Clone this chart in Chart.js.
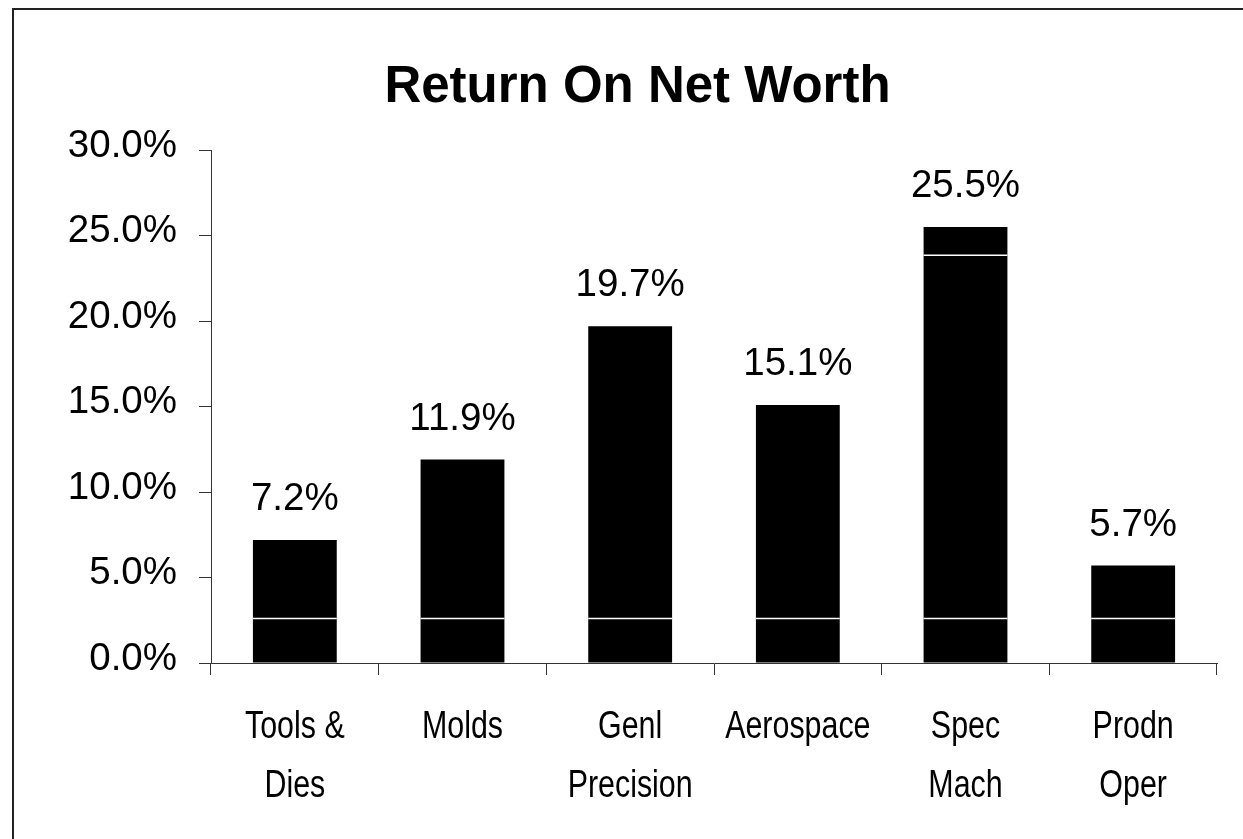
<!DOCTYPE html>
<html>
<head>
<meta charset="utf-8">
<script src="https://cdn.jsdelivr.net/npm/chart.js@4"></script>
<style>
  html, body { margin: 0; padding: 0; background: #fff; overflow: hidden; }
  #wrap { position: relative; width: 1243px; height: 839px; overflow: hidden; }
  #frame { position: absolute; left: 12px; top: 8px; width: 1400px; height: 1000px; border: 2px solid #222; box-sizing: border-box; }
  canvas { position: absolute; left: 0; top: 0; }
</style>
</head>
<body>
<div id="wrap">
  <div id="frame"></div>
  <canvas id="c" width="1243" height="839"></canvas>
</div>
<script>
const categories = [["Tools &", "Dies"], ["Molds"], ["Genl", "Precision"], ["Aerospace"], ["Spec", "Mach"], ["Prodn", "Oper"]];
const returnOnNetWorth = [7.2, 11.9, 19.7, 15.1, 25.5, 5.7];
const yTicks = [0, 5, 10, 15, 20, 25, 30];
const bandBreaks = [2.6, 23.85];

const titleText = "Return On Net Worth";
const numFont = "'Liberation Sans', Arial, sans-serif";

// bar value labels + thin white band lines
const barExtras = {
  id: 'barExtras',
  afterDatasetsDraw(chart) {
    const ctx = chart.ctx;
    const meta = chart.getDatasetMeta(0);
    const y = chart.scales.y;
    ctx.save();
    meta.data.forEach((bar, i) => {
      const v = returnOnNetWorth[i];
      const half = bar.width / 2;
      ctx.strokeStyle = '#ffffff';
      ctx.lineWidth = 1.5;
      bandBreaks.forEach(b => {
        if (b < v) {
          const py = y.getPixelForValue(b);
          ctx.beginPath();
          ctx.moveTo(bar.x - half, py);
          ctx.lineTo(bar.x + half, py);
          ctx.stroke();
        }
      });
      ctx.fillStyle = '#000';
      ctx.font = "38.5px " + numFont;
      ctx.textAlign = 'center';
      ctx.textBaseline = 'alphabetic';
      ctx.fillText(v.toFixed(1) + '%', bar.x, bar.y - 30);
    });
    ctx.restore();
  }
};

// narrow (horizontally condensed) category labels placed at the x scale ticks
const narrowLabels = {
  id: 'narrowLabels',
  afterDraw(chart) {
    const ctx = chart.ctx;
    const xs = chart.scales.x;
    ctx.save();
    ctx.fillStyle = '#000';
    ctx.font = "38px " + numFont;
    ctx.textAlign = 'center';
    ctx.textBaseline = 'alphabetic';
    categories.forEach((lines, i) => {
      const px = xs.getPixelForTick(i);
      lines.forEach((t, j) => {
        ctx.save();
        ctx.translate(px, xs.top + 75 + j * 59);
        ctx.scale(0.8, 1);
        ctx.fillText(t, 0, 0);
        ctx.restore();
      });
    });
    ctx.restore();
  }
};

new Chart(document.getElementById('c'), {
  type: 'bar',
  data: {
    labels: categories,
    datasets: [{
      data: returnOnNetWorth,
      backgroundColor: '#000000',
      borderWidth: 0,
      barPercentage: 0.5,
      categoryPercentage: 1.0
    }]
  },
  options: {
    responsive: false,
    animation: false,
    devicePixelRatio: 1,
    layout: { padding: { left: 58, right: 26, top: 10, bottom: 0 } },
    plugins: {
      legend: { display: false },
      tooltip: { enabled: false },
      title: {
        display: true,
        text: titleText,
        color: '#000',
        font: { family: numFont, size: 51, weight: 'bold' },
        padding: { top: 47, bottom: 32 }
      }
    },
    scales: {
      x: {
        grid: { display: true, drawOnChartArea: false, drawTicks: true, tickLength: 12, color: '#333', offset: true },
        border: { display: true, color: '#333', width: 1 },
        ticks: { display: false },
        afterFit(scale) { scale.height = 176; }
      },
      y: {
        min: 0,
        max: 30,
        afterBuildTicks(scale) { scale.ticks = yTicks.map(v => ({ value: v })); },
        grid: { display: true, drawOnChartArea: false, drawTicks: true, tickLength: 12, color: '#333' },
        border: { display: true, color: '#333', width: 1 },
        ticks: {
          color: '#000',
          font: { family: numFont, size: 38.5 },
          padding: 22,
          labelOffset: -4,
          callback: v => Number(v).toFixed(1) + '%'
        },
        afterFit(scale) { scale.width = 153; }
      }
    }
  },
  plugins: [barExtras, narrowLabels]
});
</script>
</body>
</html>
